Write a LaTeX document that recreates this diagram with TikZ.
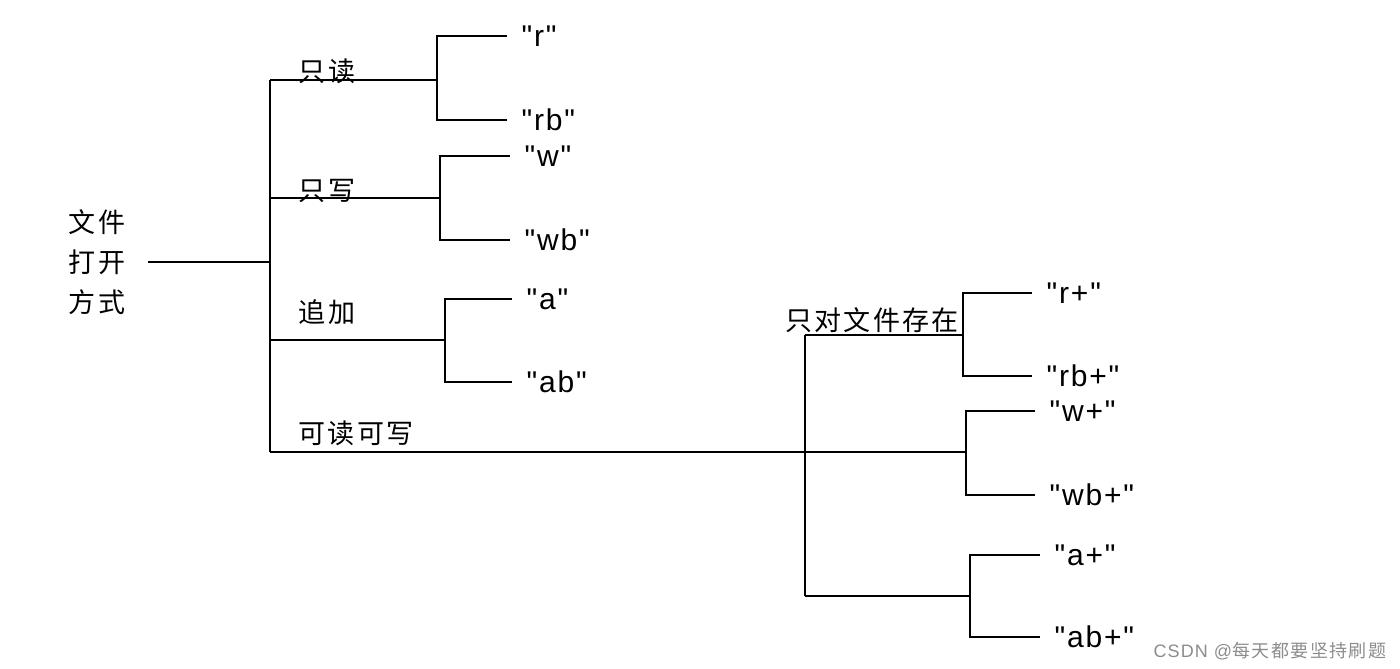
\documentclass[tikz,border=0pt]{standalone}
\usepackage{fontspec}
\setmainfont{Liberation Sans}[LetterSpace=6, Ligatures=TeXOff]
\newfontfamily\cjk{Noto Sans CJK SC}[LetterSpace=8]
\begin{document}
\begin{tikzpicture}[x=0.5pt, y=-0.5pt, line width=0.7pt,
  every node/.style={inner sep=0pt},
  kind/.style={font=\cjk\fontsize{13.5}{20}\selectfont},
  mode/.style={font=\fontsize{15}{15}\selectfont, anchor=west, inner xsep=7pt}]

  \useasboundingbox (0,0) rectangle (1400,668);

  % root and the four ways to open
  \node[kind, align=center] (root) at (97,262) {文件\\打开\\方式};
  \coordinate (rs) at (148,262);
  \coordinate (rj) at (270,262);
  \coordinate (k1) at (270,80);
  \coordinate (k2) at (270,198);
  \coordinate (k3) at (270,340);
  \coordinate (k4) at (270,452);

  \node[kind] (ro) at (327,71) {只读};
  \node[kind] (wo) at (327,191) {只写};
  \node[kind] (ap) at (327,312) {追加};
  \node[kind] (rw) at (356,433) {可读可写};

  \coordinate (b1) at (437,80);
  \coordinate (b2) at (440,198);
  \coordinate (b3) at (445,340);

  \node[mode] (r) at (507,36) {"r"};
  \node[mode] (rb) at (507,120) {"rb"};
  \node[mode] (w) at (510,156) {"w"};
  \node[mode] (wb) at (510,240) {"wb"};
  \node[mode] (a) at (512,299) {"a"};
  \node[mode] (ab) at (512,382) {"ab"};

  \draw (rs) -- (rj);
  \draw (k1) -- (k4);
  \draw (k1) -- (b1);
  \draw (k2) -- (b2);
  \draw (k3) -- (b3);
  \draw (r.west) -| (b1) |- (rb.west);
  \draw (w.west) -| (b2) |- (wb.west);
  \draw (a.west) -| (b3) |- (ab.west);

  % read and write
  \coordinate (c0) at (805,335);
  \coordinate (c1) at (963,335);
  \coordinate (c2) at (966,452);
  \coordinate (c3) at (805,596);
  \coordinate (c4) at (970,596);

  \node[kind] (ex) at (872,320) {只对文件存在};

  \node[mode] (rp) at (1032,293) {"r+"};
  \node[mode] (rbp) at (1032,376) {"rb+"};
  \node[mode] (wp) at (1035,411) {"w+"};
  \node[mode] (wbp) at (1035,495) {"wb+"};
  \node[mode] (ap2) at (1040,555) {"a+"};
  \node[mode] (abp) at (1040,637) {"ab+"};

  \draw (k4) -- (c2);
  \draw (c0) -- (c3);
  \draw (c0) -- (c1);
  \draw (c3) -- (c4);
  \draw (rp.west) -| (c1) |- (rbp.west);
  \draw (wp.west) -| (c2) |- (wbp.west);
  \draw (ap2.west) -| (c4) |- (abp.west);

  \node[anchor=east, text=black!45, font=\fontsize{9}{9}\selectfont] (mark) at (1387,651) {CSDN @{\cjk 每天都要坚持刷题}};
\end{tikzpicture}
\end{document}
